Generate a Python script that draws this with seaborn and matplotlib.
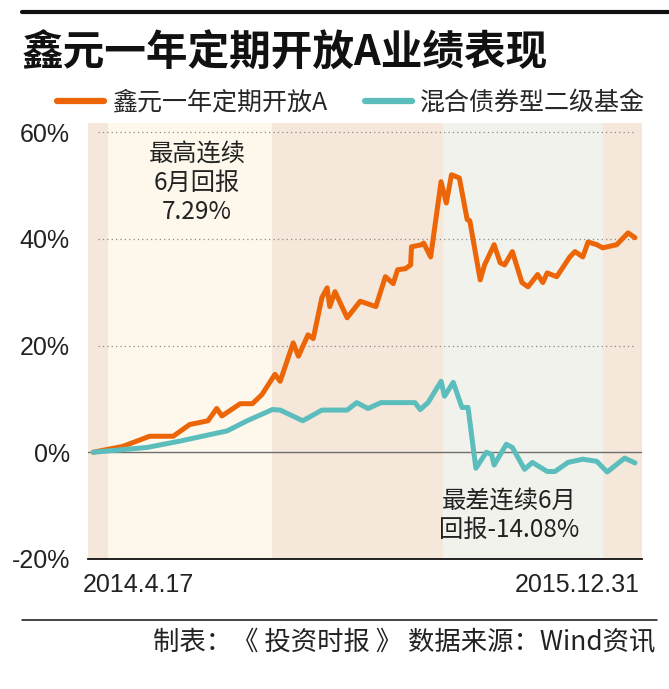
import pandas as pd
import numpy as np
import seaborn as sns
import matplotlib.pyplot as plt
from matplotlib.lines import Line2D

# values (cumulative return, %)
fund_dates = ['2014-04-17', '2014-05-21', '2014-06-21', '2014-07-18', '2014-08-06', '2014-08-27',
              '2014-09-06', '2014-09-12', '2014-10-03', '2014-10-17', '2014-10-28', '2014-11-12',
              '2014-11-18', '2014-12-03', '2014-12-09', '2014-12-20', '2014-12-26', '2015-01-05',
              '2015-01-11', '2015-01-14', '2015-01-20', '2015-02-03', '2015-02-18', '2015-03-08',
              '2015-03-19', '2015-03-28', '2015-04-02', '2015-04-11', '2015-04-17', '2015-04-18',
              '2015-04-30', '2015-05-02', '2015-05-10', '2015-05-22', '2015-05-28', '2015-06-03',
              '2015-06-12', '2015-06-21', '2015-06-24', '2015-07-06', '2015-07-11', '2015-07-22',
              '2015-07-29', '2015-08-03', '2015-08-12', '2015-08-23', '2015-08-30', '2015-09-10',
              '2015-09-16', '2015-09-21', '2015-10-02', '2015-10-17', '2015-10-23', '2015-11-01',
              '2015-11-07', '2015-11-17', '2015-11-24', '2015-12-10', '2015-12-23', '2015-12-31']
fund_values = [0.0, 1.1, 3.0, 3.0, 5.2, 5.9,
               8.2, 6.8, 9.1, 9.1, 10.8, 14.6,
               13.3, 20.5, 18.0, 22.0, 21.3, 29.0,
               30.8, 27.3, 30.1, 25.2, 28.3, 27.3,
               32.9, 31.6, 34.2, 34.4, 35.1, 38.5,
               38.9, 39.2, 36.6, 50.7, 46.7, 52.0,
               51.4, 43.6, 43.4, 32.3, 35.1, 38.9,
               35.5, 35.1, 37.6, 31.8, 31.0, 33.3,
               31.8, 33.6, 32.9, 36.6, 37.6, 36.6,
               39.4, 38.9, 38.3, 38.9, 41.1, 40.2]

bond_dates = ['2014-04-17', '2014-06-18', '2014-07-26', '2014-09-18', '2014-10-11', '2014-11-09',
              '2014-11-18', '2014-12-14', '2015-01-05', '2015-02-03', '2015-02-14', '2015-02-27',
              '2015-03-14', '2015-04-22', '2015-04-28', '2015-05-07', '2015-05-22', '2015-05-26',
              '2015-06-05', '2015-06-15', '2015-06-22', '2015-07-01', '2015-07-13', '2015-07-19',
              '2015-07-22', '2015-08-05', '2015-08-12', '2015-08-26', '2015-09-04', '2015-09-21',
              '2015-09-30', '2015-10-15', '2015-11-01', '2015-11-17', '2015-11-29', '2015-12-19',
              '2015-12-31']
bond_values = [0.0, 0.9, 2.1, 4.0, 5.9, 8.0,
               7.9, 5.9, 7.9, 7.9, 9.3, 8.2,
               9.3, 9.3, 8.0, 9.3, 13.3, 10.5,
               13.1, 8.4, 8.4, -3.0, 0.0, -0.4,
               -2.4, 1.5, 0.9, -3.2, -1.9, -3.6,
               -3.6, -1.9, -1.3, -1.7, -3.7, -1.1,
               -2.0]

series_names = ['鑫元一年定期开放A', '混合债券型二级基金']
y_ticks = [-20, 0, 20, 40, 60]
best_period = ['2014-05-04', '2014-11-09']
worst_period = ['2015-05-24', '2015-11-24']
x_range = ['2014-04-11', '2016-01-08']

title = '鑫元一年定期开放A业绩表现'
best_note = '最高连续\n6月回报\n7.29%'
worst_note = '最差连续6月\n回报-14.08%'
start_label = '2014.4.17'
end_label = '2015.12.31'
footer = '制表：《 投资时报 》 数据来源：Wind资讯'

orange = '#ec6608'
teal = '#5cbdbd'

sns.set_theme(style='white')
plt.rcParams['font.family'] = ['Noto Sans CJK SC', 'DejaVu Sans']
num_font = ['Liberation Sans', 'DejaVu Sans']

df = pd.concat([
    pd.DataFrame({'date': pd.to_datetime(fund_dates), 'value': fund_values, 'series': series_names[0]}),
    pd.DataFrame({'date': pd.to_datetime(bond_dates), 'value': bond_values, 'series': series_names[1]}),
], ignore_index=True)

fig = plt.figure(figsize=(6.69, 6.89), dpi=100)
ax = fig.add_axes([0.1315, 0.1887, 0.8281, 0.6328])

ax.set_facecolor('#f5e7da')
ax.axvspan(pd.to_datetime(best_period[0]), pd.to_datetime(best_period[1]), color='#fdf8eb', lw=0, zorder=0)
ax.axvspan(pd.to_datetime(worst_period[0]), pd.to_datetime(worst_period[1]), color='#f2f2ec', lw=0, zorder=0)

for v in y_ticks[2:]:
    ax.axhline(v, xmin=0.018, xmax=0.99, color='#8a8a8a', ls=(0, (1, 2.5)), lw=0.9, zorder=1)
ax.axhline(0, color='#6e6e6e', lw=1.0, zorder=1)

sns.lineplot(data=df, x='date', y='value', hue='series', palette=[orange, teal],
             linewidth=3.6, ax=ax, zorder=3,
             solid_capstyle='round', solid_joinstyle='round')

ax.set_xlim(pd.to_datetime(x_range))
ax.set_ylim(-20, 61.7)
ax.set_xticks([])
ax.set_yticks(y_ticks)
ax.set_yticklabels([f'{v}%' for v in y_ticks], family=num_font, fontsize=18, color='#222222')
ax.tick_params(axis='y', length=0, pad=13)
ax.set_xlabel('')
ax.set_ylabel('')
for s in ['top', 'left', 'right']:
    ax.spines[s].set_visible(False)
ax.spines['bottom'].set_color('#111111')
ax.spines['bottom'].set_linewidth(1.3)

handles, labels = ax.get_legend_handles_labels()
for h in handles:
    h.set_linewidth(4.5)
ax.legend(handles, labels, loc='center left', bbox_to_anchor=(0.085, 1 - 103 / 689),
          bbox_transform=fig.transFigure, ncol=2, frameon=False, fontsize=18,
          handlelength=1.9, handletextpad=0.3, columnspacing=1.5,
          borderpad=0, borderaxespad=0)

ax.text(0.197, 0.862, best_note, transform=ax.transAxes, ha='center', va='center',
        fontsize=17.5, color='#222222', linespacing=1.15, zorder=4)
ax.text(0.76, 0.099, worst_note, transform=ax.transAxes, ha='center', va='center',
        fontsize=17.5, color='#222222', linespacing=1.15, zorder=4)

fig.add_artist(Line2D([22 / 669, 1.0], [1 - 12 / 689] * 2, color='#111111', lw=3))
fig.text(22 / 669, 1 - 54 / 689, title, fontsize=30, fontweight='bold', va='center', ha='left', color='#111111')

fig.text(83 / 669, 1 - 585 / 689, start_label, family=num_font, fontsize=18, ha='left', va='center', color='#222222')
fig.text(640 / 669, 1 - 585 / 689, end_label, family=num_font, fontsize=18, ha='right', va='center', color='#222222')

fig.add_artist(Line2D([22 / 669, 657 / 669], [1 - 620 / 689] * 2, color='#111111', lw=1.1))
fig.text(655 / 669, 1 - 643 / 689, footer, fontsize=19, ha='right', va='center', color='#222222')

fig.savefig('out.png', dpi=100)
